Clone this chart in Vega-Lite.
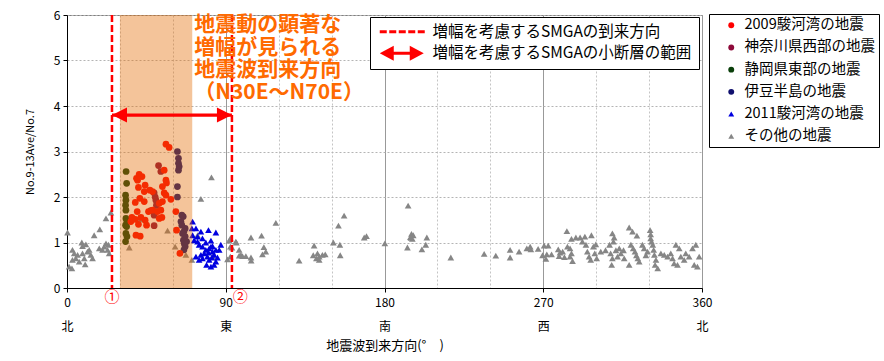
{
  "$schema": "https://vega.github.io/schema/vega-lite/v6.json",
  "width": 635,
  "height": 273,
  "autosize": {"type": "none"},
  "padding": {"left": 67, "top": 15, "right": 182, "bottom": 73},
  "background": "white",
  "config": {
    "font": "Noto Sans CJK JP",
    "view": {"stroke": "#7f7f7f", "strokeWidth": 1},
    "axis": {"labelColor": "#000", "titleColor": "#000", "domainColor": "#000", "tickColor": "#000", "titleFontWeight": "normal"}
  },
  "datasets": {
    "events": [
      {"deg":0.3,"ratio":1.22,"event":"その他の地震"},{"deg":1.2,"ratio":0.47,"event":"その他の地震"},{"deg":2.8,"ratio":0.43,"event":"その他の地震"},{"deg":3.1,"ratio":0.84,"event":"その他の地震"},{"deg":3.1,"ratio":0.62,"event":"その他の地震"},{"deg":4.1,"ratio":0.76,"event":"その他の地震"},{"deg":5.0,"ratio":0.65,"event":"その他の地震"},{"deg":6.0,"ratio":0.73,"event":"その他の地震"},{"deg":6.9,"ratio":0.58,"event":"その他の地震"},{"deg":8.4,"ratio":1.0,"event":"その他の地震"},{"deg":8.8,"ratio":0.92,"event":"その他の地震"},{"deg":8.8,"ratio":0.76,"event":"その他の地震"},{"deg":9.8,"ratio":0.65,"event":"その他の地震"},{"deg":10.3,"ratio":0.52,"event":"その他の地震"},{"deg":10.7,"ratio":0.96,"event":"その他の地震"},{"deg":11.6,"ratio":0.8,"event":"その他の地震"},{"deg":12.6,"ratio":0.84,"event":"その他の地震"},{"deg":13.5,"ratio":0.73,"event":"その他の地震"},{"deg":14.5,"ratio":0.65,"event":"その他の地震"},{"deg":15.4,"ratio":1.16,"event":"その他の地震"},{"deg":18.6,"ratio":1.29,"event":"その他の地震"},{"deg":18.3,"ratio":0.87,"event":"その他の地震"},{"deg":20.1,"ratio":0.84,"event":"その他の地震"},{"deg":21.1,"ratio":0.91,"event":"その他の地震"},{"deg":22.1,"ratio":0.98,"event":"その他の地震"},{"deg":23.5,"ratio":0.95,"event":"その他の地震"},{"deg":23.0,"ratio":0.84,"event":"その他の地震"},{"deg":23.9,"ratio":0.76,"event":"その他の地震"},{"deg":22.1,"ratio":1.53,"event":"その他の地震"},{"deg":24.9,"ratio":1.66,"event":"その他の地震"},
      {"deg":35.3,"ratio":0.89,"event":"その他の地震"},{"deg":41.3,"ratio":1.51,"event":"その他の地震"},{"deg":50.4,"ratio":1.77,"event":"その他の地震"},{"deg":57.0,"ratio":1.26,"event":"その他の地震"},{"deg":61.3,"ratio":0.91,"event":"その他の地震"},{"deg":67.4,"ratio":0.73,"event":"その他の地震"},{"deg":70.8,"ratio":0.62,"event":"その他の地震"},
      {"deg":74.0,"ratio":1.16,"event":"その他の地震"},{"deg":75.9,"ratio":1.96,"event":"その他の地震"},{"deg":81.9,"ratio":2.43,"event":"その他の地震"},{"deg":82.5,"ratio":0.69,"event":"その他の地震"},{"deg":91.0,"ratio":0.63,"event":"その他の地震"},{"deg":92.0,"ratio":1.04,"event":"その他の地震"},{"deg":92.6,"ratio":1.09,"event":"その他の地震"},{"deg":92.6,"ratio":0.91,"event":"その他の地震"},{"deg":92.6,"ratio":0.69,"event":"その他の地震"},{"deg":93.5,"ratio":0.89,"event":"その他の地震"},{"deg":95.7,"ratio":1.02,"event":"その他の地震"},{"deg":96.0,"ratio":1.0,"event":"その他の地震"},{"deg":97.6,"ratio":0.84,"event":"その他の地震"},{"deg":97.6,"ratio":0.71,"event":"その他の地震"},{"deg":98.6,"ratio":0.73,"event":"その他の地震"},{"deg":99.5,"ratio":0.7,"event":"その他の地震"},{"deg":101.4,"ratio":0.7,"event":"その他の地震"},{"deg":104.3,"ratio":0.67,"event":"その他の地震"},{"deg":104.4,"ratio":0.6,"event":"その他の地震"},{"deg":104.3,"ratio":1.11,"event":"その他の地震"},{"deg":110.3,"ratio":1.15,"event":"その他の地震"},{"deg":111.6,"ratio":0.9,"event":"その他の地震"},{"deg":112.7,"ratio":0.8,"event":"その他の地震"},{"deg":110.8,"ratio":0.74,"event":"その他の地震"},{"deg":118.4,"ratio":1.43,"event":"その他の地震"},{"deg":131.6,"ratio":0.6,"event":"その他の地震"},
      {"deg":140.1,"ratio":0.93,"event":"その他の地震"},{"deg":139.6,"ratio":0.72,"event":"その他の地震"},{"deg":141.4,"ratio":0.65,"event":"その他の地震"},{"deg":142.0,"ratio":0.76,"event":"その他の地震"},{"deg":143.0,"ratio":0.69,"event":"その他の地震"},{"deg":143.0,"ratio":0.62,"event":"その他の地震"},{"deg":144.8,"ratio":0.73,"event":"その他の地震"},{"deg":146.4,"ratio":0.74,"event":"その他の地震"},{"deg":151.0,"ratio":1.0,"event":"その他の地震"},{"deg":154.7,"ratio":0.95,"event":"その他の地震"},{"deg":154.9,"ratio":0.72,"event":"その他の地震"},{"deg":153.9,"ratio":1.37,"event":"その他の地震"},{"deg":157.1,"ratio":1.59,"event":"その他の地震"},{"deg":168.5,"ratio":1.11,"event":"その他の地震"},{"deg":169.8,"ratio":1.14,"event":"その他の地震"},{"deg":180.2,"ratio":0.98,"event":"その他の地震"},{"deg":193.4,"ratio":1.81,"event":"その他の地震"},{"deg":194.7,"ratio":1.12,"event":"その他の地震"},{"deg":195.3,"ratio":1.19,"event":"その他の地震"},{"deg":195.8,"ratio":1.08,"event":"その他の地震"},{"deg":196.3,"ratio":1.16,"event":"その他の地震"},{"deg":195.0,"ratio":1.1,"event":"その他の地震"},{"deg":204.0,"ratio":1.11,"event":"その他の地震"},{"deg":203.4,"ratio":0.95,"event":"その他の地震"},{"deg":201.2,"ratio":0.85,"event":"その他の地震"},{"deg":193.0,"ratio":0.89,"event":"その他の地震"},{"deg":217.6,"ratio":0.67,"event":"その他の地震"},
      {"deg":236.5,"ratio":0.75,"event":"その他の地震"},{"deg":243.1,"ratio":0.71,"event":"その他の地震"},{"deg":251.2,"ratio":0.84,"event":"その他の地震"},{"deg":251.2,"ratio":0.67,"event":"その他の地震"},{"deg":256.3,"ratio":0.8,"event":"その他の地震"},{"deg":260.7,"ratio":0.87,"event":"その他の地震"},{"deg":262.6,"ratio":0.91,"event":"その他の地震"},{"deg":263.0,"ratio":0.85,"event":"その他の地震"},{"deg":267.1,"ratio":0.86,"event":"その他の地震"},{"deg":270.5,"ratio":0.93,"event":"その他の地震"},{"deg":272.8,"ratio":0.93,"event":"その他の地震"},{"deg":269.6,"ratio":0.72,"event":"その他の地震"},{"deg":272.0,"ratio":0.74,"event":"その他の地震"},{"deg":274.7,"ratio":0.74,"event":"その他の地震"},{"deg":271.5,"ratio":0.64,"event":"その他の地震"},{"deg":278.5,"ratio":0.85,"event":"その他の地震"},{"deg":279.5,"ratio":0.78,"event":"その他の地震"},{"deg":279.0,"ratio":0.7,"event":"その他の地震"},{"deg":281.0,"ratio":0.8,"event":"その他の地震"},{"deg":282.0,"ratio":0.68,"event":"その他の地震"},{"deg":283.4,"ratio":1.25,"event":"その他の地震"},{"deg":283.7,"ratio":0.91,"event":"その他の地震"},{"deg":285.2,"ratio":0.87,"event":"その他の地震"},{"deg":286.0,"ratio":1.08,"event":"その他の地震"},{"deg":288.5,"ratio":1.11,"event":"その他の地震"},{"deg":290.9,"ratio":1.11,"event":"その他の地震"},{"deg":293.6,"ratio":1.13,"event":"その他の地震"},{"deg":286.0,"ratio":0.76,"event":"その他の地震"},{"deg":286.6,"ratio":0.59,"event":"その他の地震"},{"deg":285.2,"ratio":0.69,"event":"その他の地震"},{"deg":297.3,"ratio":1.16,"event":"その他の地震"},{"deg":292.2,"ratio":1.02,"event":"その他の地震"},{"deg":294.2,"ratio":0.95,"event":"その他の地震"},{"deg":296.0,"ratio":0.69,"event":"その他の地震"},{"deg":296.9,"ratio":0.62,"event":"その他の地震"},{"deg":295.0,"ratio":0.8,"event":"その他の地震"},{"deg":298.4,"ratio":0.91,"event":"その他の地震"},{"deg":299.2,"ratio":0.76,"event":"その他の地震"},{"deg":300.3,"ratio":0.65,"event":"その他の地震"},{"deg":299.8,"ratio":0.96,"event":"その他の地震"},{"deg":302.6,"ratio":0.8,"event":"その他の地震"},{"deg":305.3,"ratio":0.83,"event":"その他の地震"},{"deg":307.6,"ratio":0.95,"event":"その他の地震"},{"deg":308.2,"ratio":0.76,"event":"その他の地震"},{"deg":309.2,"ratio":0.65,"event":"その他の地震"},{"deg":308.8,"ratio":0.51,"event":"その他の地震"},{"deg":309.2,"ratio":1.2,"event":"その他の地震"},{"deg":310.2,"ratio":1.11,"event":"その他の地震"},{"deg":309.8,"ratio":1.02,"event":"その他の地震"},{"deg":311.2,"ratio":0.83,"event":"その他の地震"},{"deg":312.1,"ratio":0.69,"event":"その他の地震"},{"deg":313.1,"ratio":0.87,"event":"その他の地震"},{"deg":314.0,"ratio":0.76,"event":"その他の地震"},{"deg":315.9,"ratio":0.65,"event":"その他の地震"},{"deg":315.5,"ratio":0.83,"event":"その他の地震"},{"deg":318.7,"ratio":1.33,"event":"その他の地震"},{"deg":320.6,"ratio":1.24,"event":"その他の地震"},{"deg":323.1,"ratio":1.15,"event":"その他の地震"},{"deg":318.7,"ratio":0.51,"event":"その他の地震"},{"deg":319.7,"ratio":0.95,"event":"その他の地震"},{"deg":321.0,"ratio":0.87,"event":"その他の地震"},{"deg":322.0,"ratio":0.8,"event":"その他の地震"},{"deg":322.8,"ratio":0.72,"event":"その他の地震"},{"deg":323.6,"ratio":0.65,"event":"その他の地震"},{"deg":324.4,"ratio":0.58,"event":"その他の地震"},{"deg":326.2,"ratio":0.95,"event":"その他の地震"},{"deg":327.2,"ratio":0.87,"event":"その他の地震"},{"deg":328.2,"ratio":0.72,"event":"その他の地震"},{"deg":329.1,"ratio":0.8,"event":"その他の地震"},{"deg":330.6,"ratio":1.27,"event":"その他の地震"},{"deg":330.9,"ratio":1.18,"event":"その他の地震"},{"deg":330.9,"ratio":1.09,"event":"その他の地震"},{"deg":331.4,"ratio":1.02,"event":"その他の地震"},{"deg":332.1,"ratio":0.95,"event":"その他の地震"},{"deg":332.6,"ratio":0.84,"event":"その他の地震"},{"deg":333.0,"ratio":0.73,"event":"その他の地震"},{"deg":333.9,"ratio":0.62,"event":"その他の地震"},{"deg":333.4,"ratio":0.51,"event":"その他の地震"},{"deg":334.9,"ratio":0.43,"event":"その他の地震"},{"deg":336.7,"ratio":0.76,"event":"その他の地震"},{"deg":338.6,"ratio":0.73,"event":"その他の地震"},{"deg":340.5,"ratio":0.69,"event":"その他の地震"},{"deg":342.3,"ratio":0.76,"event":"その他の地震"},{"deg":343.3,"ratio":0.65,"event":"その他の地震"},{"deg":344.2,"ratio":0.54,"event":"その他の地震"},{"deg":346.1,"ratio":0.51,"event":"その他の地震"},{"deg":345.2,"ratio":0.95,"event":"その他の地震"},{"deg":347.1,"ratio":0.87,"event":"その他の地震"},{"deg":348.0,"ratio":0.69,"event":"その他の地震"},{"deg":349.9,"ratio":0.62,"event":"その他の地震"},{"deg":350.8,"ratio":0.76,"event":"その他の地震"},{"deg":352.7,"ratio":0.69,"event":"その他の地震"},{"deg":354.6,"ratio":0.87,"event":"その他の地震"},{"deg":356.5,"ratio":0.95,"event":"その他の地震"},{"deg":355.6,"ratio":0.51,"event":"その他の地震"},{"deg":357.4,"ratio":0.47,"event":"その他の地震"},{"deg":358.4,"ratio":0.69,"event":"その他の地震"},
      {"deg":71.2,"ratio":1.46,"event":"2011駿河湾の地震"},{"deg":70.8,"ratio":1.31,"event":"2011駿河湾の地震"},{"deg":73.1,"ratio":1.31,"event":"2011駿河湾の地震"},{"deg":75.9,"ratio":1.24,"event":"2011駿河湾の地震"},{"deg":80.2,"ratio":1.27,"event":"2011駿河湾の地震"},{"deg":84.4,"ratio":1.22,"event":"2011駿河湾の地震"},{"deg":71.2,"ratio":1.16,"event":"2011駿河湾の地震"},{"deg":74.0,"ratio":1.13,"event":"2011駿河湾の地震"},{"deg":76.8,"ratio":1.09,"event":"2011駿河湾の地震"},{"deg":72.1,"ratio":1.05,"event":"2011駿河湾の地震"},{"deg":74.0,"ratio":1.02,"event":"2011駿河湾の地震"},{"deg":78.7,"ratio":1.0,"event":"2011駿河湾の地震"},{"deg":81.6,"ratio":1.04,"event":"2011駿河湾の地震"},{"deg":74.9,"ratio":0.95,"event":"2011駿河湾の地震"},{"deg":76.8,"ratio":0.91,"event":"2011駿河湾の地震"},{"deg":81.6,"ratio":0.91,"event":"2011駿河湾の地震"},{"deg":82.5,"ratio":0.92,"event":"2011駿河湾の地震"},{"deg":87.2,"ratio":0.95,"event":"2011駿河湾の地震"},{"deg":80.6,"ratio":0.87,"event":"2011駿河湾の地震"},{"deg":78.7,"ratio":0.84,"event":"2011駿河湾の地震"},{"deg":84.4,"ratio":0.84,"event":"2011駿河湾の地震"},{"deg":86.3,"ratio":0.84,"event":"2011駿河湾の地震"},{"deg":82.5,"ratio":0.8,"event":"2011駿河湾の地震"},{"deg":80.2,"ratio":0.78,"event":"2011駿河湾の地震"},{"deg":77.8,"ratio":0.76,"event":"2011駿河湾の地震"},{"deg":75.9,"ratio":0.73,"event":"2011駿河湾の地震"},{"deg":83.4,"ratio":0.73,"event":"2011駿河湾の地震"},{"deg":79.6,"ratio":0.69,"event":"2011駿河湾の地震"},{"deg":73.1,"ratio":0.69,"event":"2011駿河湾の地震"},{"deg":82.1,"ratio":0.67,"event":"2011駿河湾の地震"},{"deg":85.3,"ratio":0.67,"event":"2011駿河湾の地震"},{"deg":76.8,"ratio":0.65,"event":"2011駿河湾の地震"},{"deg":80.6,"ratio":0.62,"event":"2011駿河湾の地震"},{"deg":74.9,"ratio":0.62,"event":"2011駿河湾の地震"},{"deg":84.4,"ratio":0.58,"event":"2011駿河湾の地震"},{"deg":79.1,"ratio":0.51,"event":"2011駿河湾の地震"},{"deg":83.4,"ratio":0.51,"event":"2011駿河湾の地震"},{"deg":81.6,"ratio":0.47,"event":"2011駿河湾の地震"},
      {"deg":33.5,"ratio":2.56,"event":"静岡県東部の地震"},{"deg":33.8,"ratio":2.3,"event":"静岡県東部の地震"},{"deg":33.2,"ratio":2.04,"event":"静岡県東部の地震"},{"deg":33.4,"ratio":1.93,"event":"静岡県東部の地震"},{"deg":33.2,"ratio":1.82,"event":"静岡県東部の地震"},{"deg":33.4,"ratio":1.71,"event":"静岡県東部の地震"},{"deg":33.4,"ratio":1.53,"event":"静岡県東部の地震"},{"deg":34.0,"ratio":1.46,"event":"静岡県東部の地震"},{"deg":33.2,"ratio":1.38,"event":"静岡県東部の地震"},{"deg":33.8,"ratio":1.35,"event":"静岡県東部の地震"},{"deg":33.4,"ratio":1.2,"event":"静岡県東部の地震"},{"deg":34.0,"ratio":1.13,"event":"静岡県東部の地震"},{"deg":33.2,"ratio":1.02,"event":"静岡県東部の地震"},
      {"deg":62.6,"ratio":3.0,"event":"伊豆半島の地震"},{"deg":63.2,"ratio":2.85,"event":"伊豆半島の地震"},{"deg":63.2,"ratio":2.74,"event":"伊豆半島の地震"},{"deg":63.6,"ratio":2.67,"event":"伊豆半島の地震"},{"deg":63.2,"ratio":2.59,"event":"伊豆半島の地震"},{"deg":62.6,"ratio":2.23,"event":"伊豆半島の地震"},{"deg":62.6,"ratio":2.0,"event":"伊豆半島の地震"},{"deg":65.1,"ratio":1.6,"event":"伊豆半島の地震"},{"deg":65.9,"ratio":1.57,"event":"伊豆半島の地震"},{"deg":64.6,"ratio":1.46,"event":"伊豆半島の地震"},{"deg":65.1,"ratio":1.38,"event":"伊豆半島の地震"},{"deg":67.0,"ratio":1.31,"event":"伊豆半島の地震"},{"deg":66.3,"ratio":1.24,"event":"伊豆半島の地震"},{"deg":65.5,"ratio":1.2,"event":"伊豆半島の地震"},{"deg":67.0,"ratio":1.13,"event":"伊豆半島の地震"},{"deg":66.0,"ratio":1.05,"event":"伊豆半島の地震"},{"deg":67.8,"ratio":1.02,"event":"伊豆半島の地震"},{"deg":66.5,"ratio":0.97,"event":"伊豆半島の地震"},{"deg":67.0,"ratio":0.91,"event":"伊豆半島の地震"},{"deg":66.3,"ratio":0.84,"event":"伊豆半島の地震"},
      {"deg":51.9,"ratio":2.69,"event":"神奈川県西部の地震"},{"deg":53.2,"ratio":2.56,"event":"神奈川県西部の地震"},{"deg":49.4,"ratio":2.09,"event":"神奈川県西部の地震"},{"deg":50.0,"ratio":2.0,"event":"神奈川県西部の地震"},{"deg":50.4,"ratio":1.93,"event":"神奈川県西部の地震"},{"deg":50.7,"ratio":1.82,"event":"神奈川県西部の地震"},{"deg":47.5,"ratio":1.7,"event":"神奈川県西部の地震"},{"deg":49.4,"ratio":1.6,"event":"神奈川県西部の地震"},{"deg":49.4,"ratio":1.37,"event":"神奈川県西部の地震"},
      {"deg":56.1,"ratio":3.16,"event":"2009駿河湾の地震"},{"deg":57.9,"ratio":3.09,"event":"2009駿河湾の地震"},{"deg":55.1,"ratio":2.59,"event":"2009駿河湾の地震"},{"deg":40.9,"ratio":2.5,"event":"2009駿河湾の地震"},{"deg":39.4,"ratio":2.41,"event":"2009駿河湾の地震"},{"deg":42.5,"ratio":2.45,"event":"2009駿河湾の地震"},{"deg":40.0,"ratio":2.37,"event":"2009駿河湾の地震"},{"deg":56.1,"ratio":2.37,"event":"2009駿河湾の地震"},{"deg":56.4,"ratio":2.31,"event":"2009駿河湾の地震"},{"deg":44.3,"ratio":2.26,"event":"2009駿河湾の地震"},{"deg":40.5,"ratio":2.21,"event":"2009駿河湾の地震"},{"deg":47.0,"ratio":2.15,"event":"2009駿河湾の地震"},{"deg":43.8,"ratio":2.12,"event":"2009駿河湾の地震"},{"deg":48.5,"ratio":2.12,"event":"2009駿河湾の地震"},{"deg":54.1,"ratio":2.23,"event":"2009駿河湾の地震"},{"deg":55.1,"ratio":2.09,"event":"2009駿河湾の地震"},{"deg":56.1,"ratio":2.04,"event":"2009駿河湾の地震"},{"deg":58.9,"ratio":1.95,"event":"2009駿河湾の地震"},{"deg":41.3,"ratio":1.97,"event":"2009駿河湾の地震"},{"deg":38.7,"ratio":1.88,"event":"2009駿河湾の地震"},{"deg":43.8,"ratio":1.9,"event":"2009駿河湾の地震"},{"deg":52.3,"ratio":1.86,"event":"2009駿河湾の地震"},{"deg":54.1,"ratio":1.9,"event":"2009駿河湾の地震"},{"deg":53.2,"ratio":1.71,"event":"2009駿河湾の地震"},{"deg":51.3,"ratio":1.68,"event":"2009駿河湾の地震"},{"deg":46.2,"ratio":1.68,"event":"2009駿河湾の地震"},{"deg":48.5,"ratio":1.71,"event":"2009駿河湾の地震"},{"deg":39.8,"ratio":1.68,"event":"2009駿河湾の地震"},{"deg":36.8,"ratio":1.55,"event":"2009駿河湾の地震"},{"deg":38.7,"ratio":1.51,"event":"2009駿河湾の地震"},{"deg":41.9,"ratio":1.55,"event":"2009駿河湾の地震"},{"deg":36.2,"ratio":1.46,"event":"2009駿河湾の地震"},{"deg":40.5,"ratio":1.4,"event":"2009駿河湾の地震"},{"deg":44.3,"ratio":1.49,"event":"2009駿河湾の地震"},{"deg":45.1,"ratio":1.38,"event":"2009駿河湾の地震"},{"deg":52.3,"ratio":1.53,"event":"2009駿河湾の地震"},{"deg":53.8,"ratio":1.55,"event":"2009駿河湾の地震"},{"deg":39.1,"ratio":1.16,"event":"2009駿河湾の地震"},{"deg":41.5,"ratio":1.14,"event":"2009駿河湾の地震"},{"deg":61.7,"ratio":1.68,"event":"2009駿河湾の地震"},{"deg":62.1,"ratio":1.27,"event":"2009駿河湾の地震"},{"deg":64.0,"ratio":0.76,"event":"2009駿河湾の地震"}
    ],
    "band": [{"from": 30, "to": 71}],
    "arrivals": [
      {"deg": 25.5, "item": "増幅を考慮するSMGAの到来方向"},
      {"deg": 93.5, "item": "増幅を考慮するSMGAの到来方向"}
    ],
    "range": [{"from": 25.5, "to": 93.5, "ratio": 3.8}],
    "note": [
      {"deg": 72.1, "ratio": 5.77, "lines": ["地震動の顕著な", "増幅が見られる", "地震波到来方向", "（N30E～N70E）"]}
    ],
    "marks": [
      {"deg": 25.5, "ratio": -0.2, "label": "①"},
      {"deg": 98.2, "ratio": -0.2, "label": "②"}
    ]
  },
  "layer": [
    {
      "data": {"name": "events"},
      "mark": {"type": "point", "filled": true, "opacity": 1, "size": 45},
      "encoding": {
        "x": {
          "field": "deg", "type": "quantitative",
          "scale": {"domain": [0, 360], "nice": false, "zero": false},
          "axis": {
            "title": "地震波到来方向(°　)",
            "titleFontSize": 13, "titlePadding": 7,
            "values": [0, 30, 60, 90, 120, 150, 180, 210, 240, 270, 300, 330, 360],
            "labelExpr": "datum.value % 90 === 0 ? [datum.label, ['北','東','南','西','北'][datum.value / 90]] : ''",
            "labelLineHeight": 24, "labelFontSize": 12, "labelPadding": 5, "labelFlush": false, "labelOverlap": false,
            "tickSize": 4,
            "tickOpacity": {"condition": {"test": "datum.value % 90 === 0", "value": 1}, "value": 0},
            "gridDash": {"condition": {"test": "datum.value % 90 === 0", "value": []}, "value": [2, 2]},
            "gridColor": {"condition": {"test": "datum.value % 90 === 0", "value": "#999999"}, "value": "#c4c4c4"},
            "gridOpacity": 1
          }
        },
        "y": {
          "field": "ratio", "type": "quantitative",
          "scale": {"domain": [0, 6], "nice": false, "zero": false},
          "axis": {
            "title": "No.9-13Ave/No.7", "titleFontSize": 11, "titlePadding": 18,
            "values": [0, 1, 2, 3, 4, 5, 6], "labelFontSize": 12, "labelPadding": 3, "tickSize": 4,
            "gridDash": [2, 2], "gridColor": "#b4b4b4", "gridOpacity": 1
          }
        },
        "color": {
          "field": "event", "type": "nominal",
          "scale": {
            "domain": ["2009駿河湾の地震", "神奈川県西部の地震", "静岡県東部の地震", "伊豆半島の地震", "2011駿河湾の地震", "その他の地震"],
            "range": ["#FF0000", "#8E0A3A", "#0A3F0A", "#10106E", "#0000E0", "#868686"]
          },
          "legend": {"title": null, "orient": "none", "legendX": 642, "legendY": -1, "padding": 4, "strokeColor": "#000000", "fillColor": "#ffffff", "labelFontSize": 14.5, "labelColor": "#000", "labelLimit": 400, "symbolSize": 35, "symbolOffset": 11, "labelOffset": 6, "rowPadding": 7.2}
        },
        "shape": {
          "field": "event", "type": "nominal",
          "scale": {
            "domain": ["2009駿河湾の地震", "神奈川県西部の地震", "静岡県東部の地震", "伊豆半島の地震", "2011駿河湾の地震", "その他の地震"],
            "range": ["circle", "circle", "circle", "circle", "triangle-up", "triangle-up"]
          },
          "legend": {"title": null, "orient": "none", "legendX": 642, "legendY": -1, "padding": 4, "strokeColor": "#000000", "fillColor": "#ffffff", "labelFontSize": 14.5, "labelColor": "#000", "labelLimit": 400, "symbolSize": 35, "symbolOffset": 11, "labelOffset": 6, "rowPadding": 7.2}
        }
      }
    },
    {
      "data": {"name": "band"},
      "mark": {"type": "rect", "color": "#E36B03", "opacity": 0.4},
      "encoding": {
        "x": {"field": "from", "type": "quantitative", "scale": {"domain": [0, 360], "nice": false, "zero": false}},
        "x2": {"field": "to"}
      }
    },
    {
      "data": {"name": "arrivals"},
      "mark": {"type": "rule", "strokeWidth": 2.5, "strokeDash": [7, 3]},
      "encoding": {
        "x": {"field": "deg", "type": "quantitative", "scale": {"domain": [0, 360], "nice": false, "zero": false}},
        "color": {
          "field": "item", "type": "nominal",
          "scale": {"domain": ["増幅を考慮するSMGAの到来方向", "増幅を考慮するSMGAの小断層の範囲"], "range": ["#FF0000", "#FF0000"]},
          "legend": {
            "title": null, "orient": "none", "legendX": 303, "legendY": 2, "padding": 7,
            "strokeColor": "#000000", "fillColor": "#ffffff",
            "labelFontSize": 15.5, "labelColor": "#000", "labelLimit": 400, "labelOffset": 40, "symbolOffset": 0, "rowPadding": 4.5, "symbolSize": 100,
            "encode": {
              "symbols": {
                "update": {
                  "shape": {"signal": "datum.value === '増幅を考慮するSMGAの到来方向' ? 'M-1,-0.3h1.4v0.6h-1.4z M0.9,-0.3h1.4v0.6h-1.4z M2.8,-0.3h1.4v0.6h-1.4z M4.7,-0.3h1.4v0.6h-1.4z M6.6,-0.3h1.4v0.6h-1.4z' : 'M-1,0L1.8,-1.5L1.8,-0.3L5,-0.3L5,-1.5L7.8,0L5,1.5L5,0.3L1.8,0.3L1.8,1.5Z'"},
                  "fill": {"value": "#FF0000"},
                  "fillOpacity": {"value": 1},
                  "stroke": {"value": "transparent"},
                  "strokeWidth": {"value": 0},
                  "size": {"value": 100},
                  "opacity": {"value": 1}
                }
              }
            }
          }
        }
      }
    },
    {
      "data": {"name": "range"},
      "mark": {"type": "rule", "color": "#FF0000", "strokeWidth": 3.3},
      "encoding": {
        "x": {"field": "from", "type": "quantitative", "scale": {"domain": [0, 360], "nice": false, "zero": false}},
        "x2": {"field": "to"},
        "y": {"field": "ratio", "type": "quantitative", "scale": {"domain": [0, 6], "nice": false, "zero": false}}
      }
    },
    {
      "data": {"name": "range"},
      "mark": {"type": "point", "filled": true, "color": "#FF0000", "opacity": 1, "size": 225, "shape": "M-1,0L1,-1L1,1Z", "xOffset": 7.5},
      "encoding": {
        "x": {"field": "from", "type": "quantitative", "scale": {"domain": [0, 360], "nice": false, "zero": false}},
        "y": {"field": "ratio", "type": "quantitative", "scale": {"domain": [0, 6], "nice": false, "zero": false}}
      }
    },
    {
      "data": {"name": "range"},
      "mark": {"type": "point", "filled": true, "color": "#FF0000", "opacity": 1, "size": 225, "shape": "M1,0L-1,-1L-1,1Z", "xOffset": -7.5},
      "encoding": {
        "x": {"field": "to", "type": "quantitative", "scale": {"domain": [0, 360], "nice": false, "zero": false}},
        "y": {"field": "ratio", "type": "quantitative", "scale": {"domain": [0, 6], "nice": false, "zero": false}}
      }
    },
    {
      "data": {"name": "note"},
      "mark": {"type": "text", "align": "left", "baseline": "middle", "fontSize": 21, "lineHeight": 22.5, "fontWeight": "bold", "color": "#FF6A00", "font": "Noto Sans CJK JP"},
      "encoding": {
        "x": {"field": "deg", "type": "quantitative", "scale": {"domain": [0, 360], "nice": false, "zero": false}},
        "y": {"field": "ratio", "type": "quantitative", "scale": {"domain": [0, 6], "nice": false, "zero": false}},
        "text": {"field": "lines", "type": "nominal"}
      }
    },
    {
      "data": {"name": "marks"},
      "mark": {"type": "text", "align": "center", "baseline": "middle", "fontSize": 15, "color": "#FF0000"},
      "encoding": {
        "x": {"field": "deg", "type": "quantitative", "scale": {"domain": [0, 360], "nice": false, "zero": false}},
        "y": {"field": "ratio", "type": "quantitative", "scale": {"domain": [0, 6], "nice": false, "zero": false}},
        "text": {"field": "label", "type": "nominal"}
      }
    }
  ],
  "resolve": {"scale": {"color": "independent", "shape": "independent"}, "legend": {"color": "independent", "shape": "independent"}}
}
